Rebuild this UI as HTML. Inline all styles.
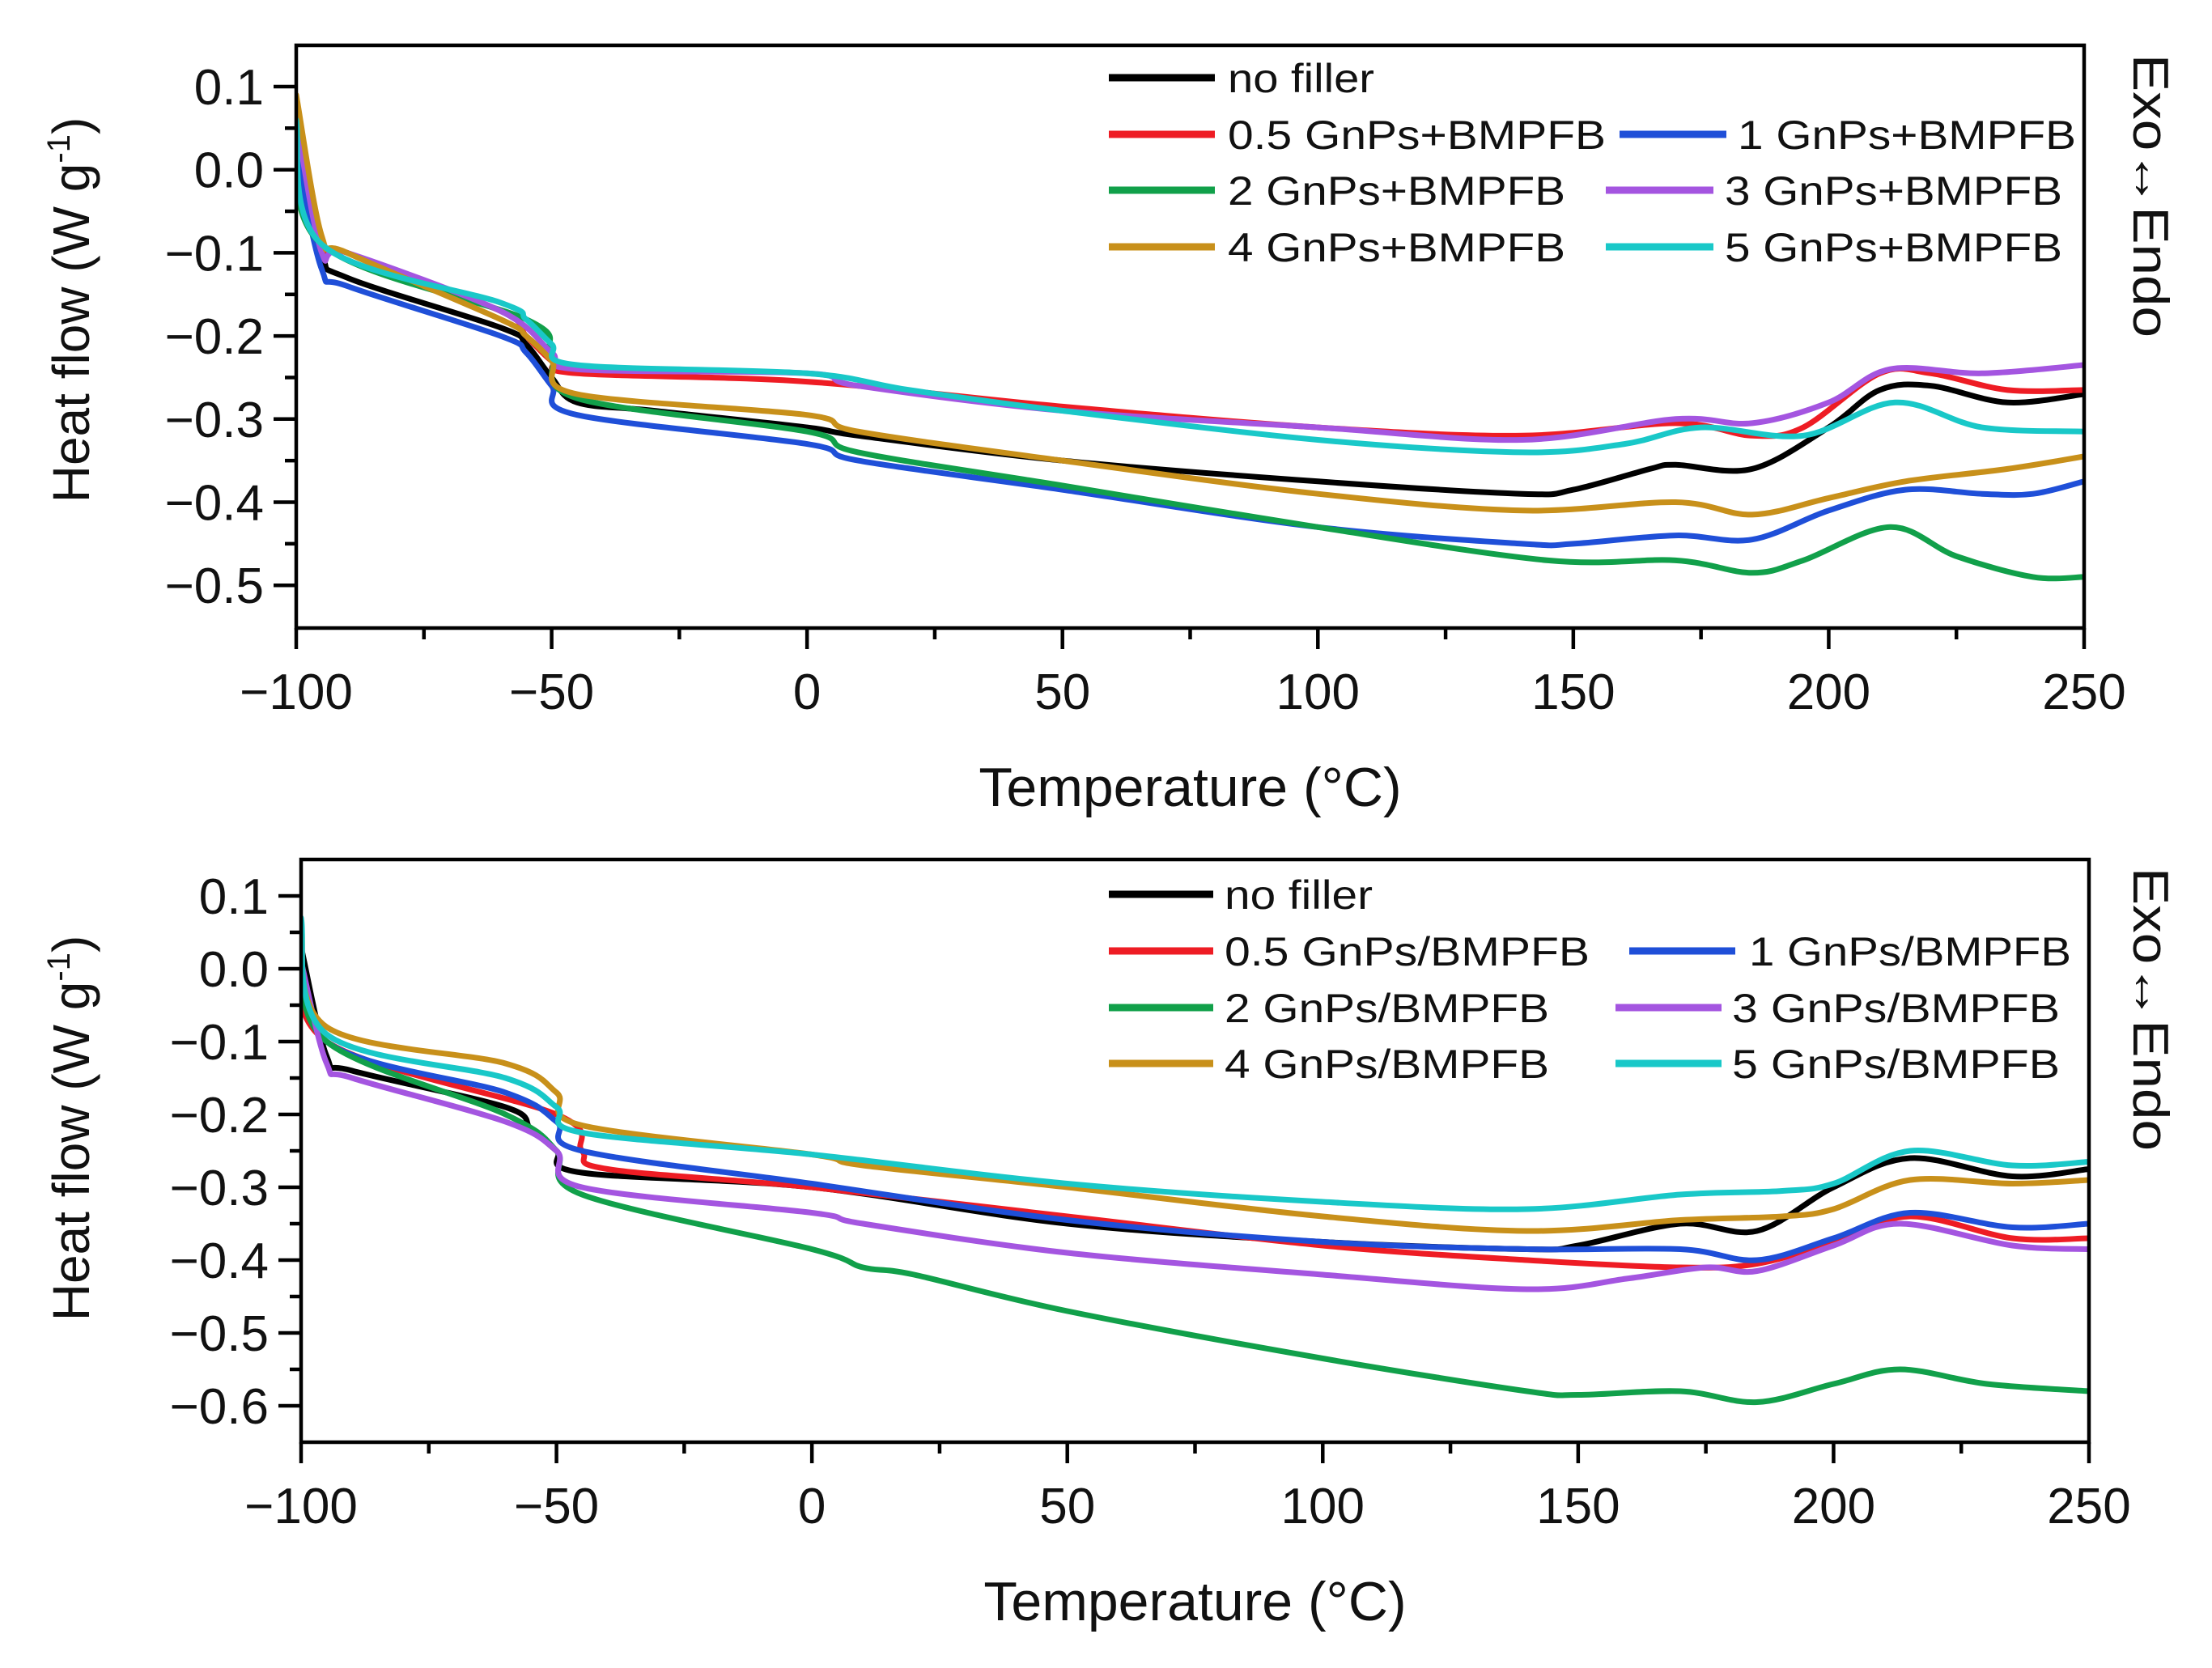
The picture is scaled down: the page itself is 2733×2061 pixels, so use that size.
<!DOCTYPE html>
<html><head><meta charset="utf-8"><style>
html,body{margin:0;padding:0;background:#fff;}
svg{display:block;font-family:"Liberation Sans",Arial,sans-serif;}
</style></head><body>
<svg id="chart" width="2733" height="2061" viewBox="0 0 2733 2061" xmlns="http://www.w3.org/2000/svg"></svg>
<script>
const xTicks=[-100,-50,0,50,100,150,200,250];
const yTicksTop=[0.1,0.0,-0.1,-0.2,-0.3,-0.4,-0.5];
const yTicksBot=[0.1,0.0,-0.1,-0.2,-0.3,-0.4,-0.5,-0.6];
const colors=["#000000","#ee1c24","#1f4fd8","#11a04a","#a455e0","#c8901a","#19c8c8"];
const labelsTop=["no filler","0.5 GnPs+BMPFB","1 GnPs+BMPFB","2 GnPs+BMPFB","3 GnPs+BMPFB","4 GnPs+BMPFB","5 GnPs+BMPFB"];
const labelsBot=["no filler","0.5 GnPs/BMPFB","1 GnPs/BMPFB","2 GnPs/BMPFB","3 GnPs/BMPFB","4 GnPs/BMPFB","5 GnPs/BMPFB"];
// top panel series: [temperature, heat flow]
const topNoFiller=[[-100,0.03],[-95,-0.1],[-90,-0.13],[-60,-0.19],[-55,-0.21],[-50,-0.25],[-45,-0.28],[-30,-0.29],[0,-0.31],[10,-0.32],[50,-0.35],[100,-0.375],[140,-0.39],[150,-0.385],[165,-0.36],[170,-0.355],[185,-0.36],[200,-0.31],[210,-0.265],[220,-0.26],[235,-0.28],[250,-0.27]];
const top05=[[-100,0.06],[-95,-0.09],[-90,-0.1],[-60,-0.17],[-55,-0.2],[-50,-0.23],[-45,-0.245],[0,-0.255],[50,-0.285],[100,-0.31],[140,-0.32],[170,-0.305],[185,-0.32],[195,-0.31],[210,-0.245],[220,-0.245],[235,-0.265],[250,-0.265]];
const top1=[[-100,0.02],[-95,-0.12],[-90,-0.14],[-60,-0.2],[-55,-0.22],[-50,-0.26],[-45,-0.295],[0,-0.33],[10,-0.35],[50,-0.385],[100,-0.43],[140,-0.45],[150,-0.45],[170,-0.44],[185,-0.445],[200,-0.41],[215,-0.385],[230,-0.39],[240,-0.39],[250,-0.375]];
const top2=[[-100,0.06],[-95,-0.09],[-55,-0.18],[-50,-0.22],[-45,-0.275],[0,-0.315],[10,-0.34],[50,-0.38],[100,-0.43],[145,-0.47],[170,-0.47],[185,-0.485],[195,-0.47],[212,-0.43],[225,-0.465],[240,-0.49],[250,-0.49]];
const top3=[[-100,0.06],[-95,-0.1],[-90,-0.1],[-60,-0.17],[-50,-0.22],[-45,-0.24],[0,-0.245],[10,-0.26],[50,-0.29],[100,-0.31],[140,-0.325],[170,-0.3],[185,-0.305],[200,-0.28],[212,-0.24],[230,-0.245],[250,-0.235]];
const top4=[[-100,0.09],[-95,-0.08],[-90,-0.1],[-60,-0.18],[-55,-0.2],[-50,-0.23],[-45,-0.27],[0,-0.295],[10,-0.315],[50,-0.35],[100,-0.39],[140,-0.41],[170,-0.4],[185,-0.415],[200,-0.395],[215,-0.375],[235,-0.36],[250,-0.345]];
const top5=[[-100,0.06],[-95,-0.09],[-60,-0.16],[-55,-0.18],[-50,-0.21],[-45,-0.235],[0,-0.245],[20,-0.265],[50,-0.29],[100,-0.325],[140,-0.34],[160,-0.33],[175,-0.31],[195,-0.32],[213,-0.28],[230,-0.31],[250,-0.315]];
// bottom panel series
const botNoFiller=[[-100,0.03],[-95,-0.12],[-90,-0.14],[-60,-0.19],[-55,-0.22],[-50,-0.25],[-45,-0.28],[0,-0.3],[50,-0.35],[100,-0.375],[140,-0.385],[150,-0.38],[170,-0.35],[185,-0.36],[200,-0.3],[215,-0.26],[235,-0.285],[250,-0.275]];
const bot05=[[-100,0.04],[-95,-0.1],[-50,-0.2],[-45,-0.25],[-40,-0.275],[0,-0.3],[50,-0.34],[100,-0.38],[140,-0.4],[170,-0.41],[185,-0.405],[200,-0.375],[215,-0.34],[235,-0.37],[250,-0.37]];
const bot1=[[-100,0.05],[-95,-0.1],[-60,-0.17],[-50,-0.21],[-45,-0.25],[0,-0.295],[50,-0.345],[100,-0.375],[140,-0.385],[170,-0.385],[185,-0.4],[200,-0.37],[215,-0.335],[235,-0.355],[250,-0.35]];
const bot2=[[-100,0.03],[-95,-0.1],[-60,-0.2],[-50,-0.25],[-45,-0.31],[0,-0.385],[10,-0.41],[20,-0.42],[50,-0.47],[100,-0.535],[140,-0.58],[150,-0.585],[170,-0.58],[185,-0.595],[200,-0.57],[213,-0.55],[230,-0.57],[250,-0.58]];
const bot3=[[-100,0.01],[-95,-0.13],[-90,-0.15],[-60,-0.21],[-50,-0.25],[-45,-0.3],[0,-0.335],[10,-0.35],[50,-0.39],[100,-0.42],[140,-0.44],[160,-0.425],[175,-0.41],[185,-0.415],[200,-0.38],[213,-0.35],[235,-0.38],[250,-0.385]];
const bot4=[[-100,0.06],[-95,-0.08],[-60,-0.13],[-50,-0.17],[-45,-0.215],[0,-0.255],[10,-0.27],[50,-0.3],[100,-0.34],[140,-0.36],[170,-0.345],[190,-0.34],[200,-0.33],[215,-0.29],[235,-0.295],[250,-0.29]];
const bot5=[[-100,0.07],[-95,-0.09],[-60,-0.15],[-50,-0.19],[-45,-0.225],[0,-0.255],[50,-0.295],[100,-0.32],[140,-0.33],[170,-0.31],[190,-0.305],[200,-0.295],[215,-0.25],[235,-0.27],[250,-0.265]];
const seriesTop=[topNoFiller,top05,top1,top2,top3,top4,top5];
const seriesBot=[botNoFiller,bot05,bot1,bot2,bot3,bot4,bot5];

const NS="http://www.w3.org/2000/svg";
const svg=document.getElementById('chart');
function mk(tag,attrs,parent){const e=document.createElementNS(NS,tag);for(const k in attrs)e.setAttribute(k,attrs[k]);(parent||svg).appendChild(e);return e;}
function smooth(pts){let d="M"+pts[0][0].toFixed(1)+","+pts[0][1].toFixed(1);
 for(let i=0;i<pts.length-1;i++){const p0=pts[i-1]||pts[i],p1=pts[i],p2=pts[i+1],p3=pts[i+2]||p2;
  const c1=[p1[0]+(p2[0]-p0[0])/6,p1[1]+(p2[1]-p0[1])/6],c2=[p2[0]-(p3[0]-p1[0])/6,p2[1]-(p3[1]-p1[1])/6];
  d+=" C"+c1[0].toFixed(1)+","+c1[1].toFixed(1)+" "+c2[0].toFixed(1)+","+c2[1].toFixed(1)+" "+p2[0].toFixed(1)+","+p2[1].toFixed(1);}
 return d;}

function panel(cfg){
 const g=mk('g',{});
 
 
 const xs=v=>cfg.L+(v+100)/350*(cfg.R-cfg.L);
 const ys=v=>cfg.y0+(cfg.yRef-v)/0.1*cfg.step;
 const clip=mk('clipPath',{id:cfg.name+'-clip'},g);
 mk('rect',{x:cfg.L,y:cfg.T,width:cfg.R-cfg.L,height:cfg.B-cfg.T},clip);
 const sg=mk('g',{'clip-path':'url(#'+cfg.name+'-clip)'},g);
 cfg.series.forEach((s,i)=>{
  const p=mk('path',{d:smooth(s.map(q=>[xs(q[0]),ys(q[1])])),fill:'none',stroke:colors[i],'stroke-width':7,'stroke-linejoin':'round','stroke-linecap':'round'},sg);
  
  
 });
 const fr=mk('rect',{x:cfg.L,y:cfg.T,width:cfg.R-cfg.L,height:cfg.B-cfg.T,fill:'none',stroke:'#000','stroke-width':4.5},g);
 
 
 xTicks.forEach((t,i)=>{
  const x=xs(t);
  mk('line',{x1:x,x2:x,y1:cfg.B,y2:cfg.B+26,stroke:'#000','stroke-width':4.5},g);
  if(i<xTicks.length-1){const xm=xs(t+25);mk('line',{x1:xm,x2:xm,y1:cfg.B,y2:cfg.B+14,stroke:'#000','stroke-width':4.5},g);}
  const tx=mk('text',{x:x,y:cfg.B+100,'font-size':62,'text-anchor':'middle',fill:'#111'},g);
  tx.textContent=(t<0?'\u2212':'')+Math.abs(t);
  
  
 });
 cfg.yTicks.forEach((t,i)=>{
  const y=ys(t);
  mk('line',{x1:cfg.L-28,x2:cfg.L,y1:y,y2:y,stroke:'#000','stroke-width':4.5},g);
  const ym=ys(t-0.05);
  if(ym<cfg.B-2) mk('line',{x1:cfg.L-14,x2:cfg.L,y1:ym,y2:ym,stroke:'#000','stroke-width':4.5},g);
  const ty=ys(t+0.05); if(i===0&&ty>cfg.T+2) mk('line',{x1:cfg.L-14,x2:cfg.L,y1:ty,y2:ty,stroke:'#000','stroke-width':4.5},g);
  const tx=mk('text',{x:cfg.L-40,y:y+22,'font-size':62,'text-anchor':'end',fill:'#111'},g);
  tx.textContent=(t<0?'\u2212':'')+Math.abs(t).toFixed(1);
  
  
 });
 const xt=mk('text',{x:(cfg.L+cfg.R)/2,y:cfg.B+220,'font-size':68,'text-anchor':'middle',fill:'#111'},g);
 xt.innerHTML='Temperature (\u00B0C)';
 
 
 const yt=mk('text',{x:0,y:0,'font-size':64,'text-anchor':'middle',fill:'#111',transform:'translate(110,'+cfg.ytY+') rotate(-90)'},g);
 yt.innerHTML='Heat flow (W g<tspan dy="-24" font-size="40">-1</tspan><tspan dy="24">)</tspan>';
 
 
 const ex=mk('text',{x:0,y:0,'font-size':62,'text-anchor':'middle',fill:'#111',textLength:350,lengthAdjust:'spacingAndGlyphs',transform:'translate(2636,'+cfg.exoY+') rotate(90)'},g);
 ex.textContent='Exo\u2194Endo';
 
 
 const lg=mk('g',{},g);
 
 
 cfg.legend.forEach((e,i)=>{
  const eg=mk('g',{},lg);
  
  
  mk('line',{x1:e[0],x2:e[1],y1:e[3],y2:e[3],stroke:colors[i],'stroke-width':9},eg);
  const t=mk('text',{x:e[2],y:e[3]+18,'font-size':50,fill:'#111',textLength:e[4],lengthAdjust:'spacingAndGlyphs'},eg);
  t.textContent=cfg.labels[i];
 });
}

panel({name:'top-panel',L:366,R:2575,T:56,B:776,y0:107,yRef:0.1,step:102.7,yTicks:yTicksTop,series:seriesTop,labels:labelsTop,ytY:383,exoY:242,
 legend:[[1370,1501,1517,96,181],[1370,1501,1517,166,467],[2001,2133,2147,166,418],[1370,1501,1517,235,417],[1984,2117,2131,235,417],[1370,1501,1517,305,417],[1984,2117,2131,305,417]]});
panel({name:'bottom-panel',L:372,R:2581,T:1062,B:1782,y0:1107,yRef:0.1,step:90,yTicks:yTicksBot,series:seriesBot,labels:labelsBot,ytY:1394,exoY:1247,
 legend:[[1370,1499,1513,1105,183],[1370,1499,1513,1175,451],[2013,2144,2161,1175,398],[1370,1499,1513,1245,401],[1996,2127,2140,1245,405],[1370,1499,1513,1314,401],[1996,2127,2140,1314,405]]});
</script>
</body></html>
